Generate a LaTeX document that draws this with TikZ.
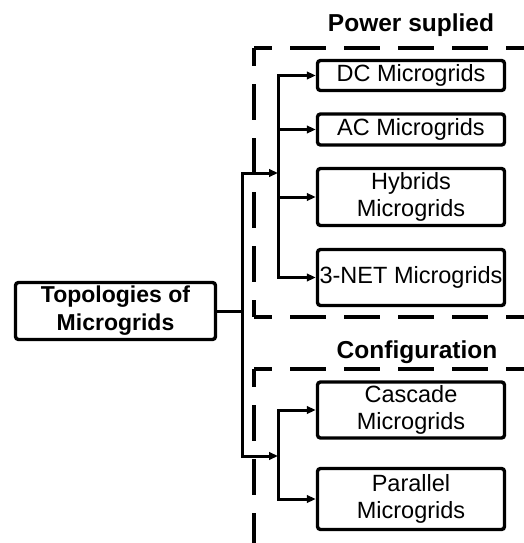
\documentclass[tikz,border=0pt]{standalone}
\usepackage{fontspec}
\setmainfont{Liberation Sans}
\usetikzlibrary{arrows.meta}

\begin{document}
\begin{tikzpicture}[x=1pt,y=-1pt,
  item/.style={draw,line width=3.4pt,rounded corners=3pt,inner sep=0pt,
    align=center,font=\fontsize{23.5}{27}\selectfont},
  rootbox/.style={item,font=\bfseries\fontsize{23}{28}\selectfont},
  grouptitle/.style={inner sep=0pt,font=\bfseries\fontsize{24.5}{28}\selectfont},
  conn/.style={line width=3pt},
  tip/.style={-{Triangle[length=9pt,width=7.5pt]}},
  groupedge/.style={line width=3.2pt,dash pattern=on 36pt off 18pt,dash phase=18pt}
]
\useasboundingbox (0,0) rectangle (523,543);

% dashed group frames (open on the right)
\draw[groupedge] (254,48) -- (540,48);
\draw[groupedge] (254,48) -- (254,317);
\draw[groupedge] (254,317) -- (540,317);
\draw[groupedge] (254,369) -- (540,369);
\draw[groupedge] (254,369) -- (254,560);

% group titles
\node[grouptitle] (tpower) at (411,25) {Power suplied};
\node[grouptitle] (tconf) at (417,352) {Configuration};

% root
\node[rootbox,minimum width=200,minimum height=57] (main) at (115.5,311) {Topologies of\\Microgrids};

% power supplied items
\node[item,minimum width=187,minimum height=30] (dc) at (411,75.5) {DC Microgrids};
\node[item,minimum width=187,minimum height=31] (ac) at (411,129.5) {AC Microgrids};
\node[item,minimum width=187,minimum height=57] (hy) at (411,197) {Hybrids\\Microgrids};
\node[item,minimum width=187,minimum height=56] (net) at (411,277.5) {3-NET Microgrids};

% configuration items
\node[item,minimum width=187,minimum height=56] (cas) at (411,410) {Cascade\\Microgrids};
\node[item,minimum width=187,minimum height=61] (par) at (411,499) {Parallel\\Microgrids};

% junction points
\coordinate (hub) at (242,311);
\coordinate (j1) at (278,173);
\coordinate (j2) at (278,456);

% connectors
\draw[conn] (main.east) -- (hub);
\draw[conn,tip] (hub) |- (j1);
\draw[conn,tip] (hub) |- (j2);
\draw[conn,tip] (j1) |- (dc.west);
\draw[conn,tip] (j1) |- (ac.west);
\draw[conn,tip] (j1) |- (hy.west);
\draw[conn,tip] (j1) |- (net.west);
\draw[conn,tip] (j2) |- (cas.west);
\draw[conn,tip] (j2) |- (par.west);
\end{tikzpicture}
\end{document}
